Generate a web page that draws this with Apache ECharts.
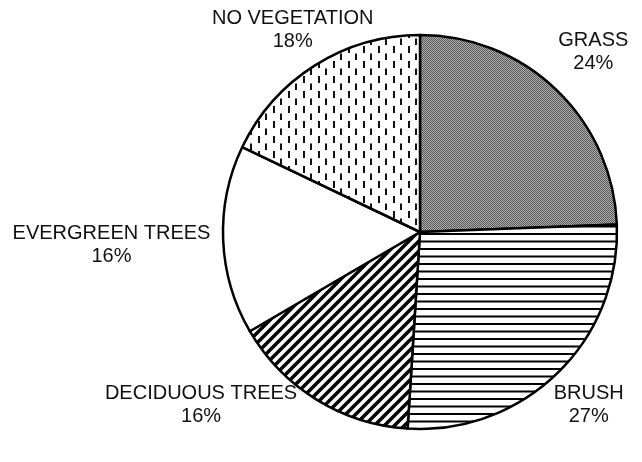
<!DOCTYPE html>
<html>
<head>
<meta charset="utf-8">
<script src="https://cdn.jsdelivr.net/npm/echarts@6/dist/echarts.min.js"></script>
<style>
  html, body { margin: 0; padding: 0; background: #fff; }
  #main { width: 642px; height: 462px; }
</style>
</head>
<body>
<div id="main"></div>
<script>
// land cover shares, clockwise from 12 o'clock
var categories = ['GRASS', 'BRUSH', 'DECIDUOUS TREES', 'EVERGREEN TREES', 'NO VEGETATION'];
var shares = [24.4, 26.6, 15.6, 15.5, 17.9];

var CX = 420, CY = 232, R = 197, GAP = 12;
var LABEL_TOP = 7, LABEL_BOTTOM = 428;

function makeTile(w, h, draw) {
    var c = document.createElement('canvas');
    c.width = w;
    c.height = h;
    var ctx = c.getContext('2d');
    ctx.fillStyle = '#fff';
    ctx.fillRect(0, 0, w, h);
    draw(ctx);
    return { image: c, repeat: 'repeat' };
}

// fine gray checker
var grassFill = makeTile(2, 2, function (ctx) {
    ctx.fillStyle = '#b0b0b0';
    ctx.fillRect(0, 0, 2, 2);
    ctx.fillStyle = '#575757';
    ctx.fillRect(0, 0, 1, 1);
    ctx.fillRect(1, 1, 1, 1);
});
// horizontal lines
var brushFill = makeTile(8, 15, function (ctx) {
    ctx.fillStyle = '#000';
    ctx.fillRect(0, 0.5, 8, 2);
    ctx.fillRect(0, 8, 8, 2);
});
// "/" stripes
var decidFill = makeTile(10, 10, function (ctx) {
    ctx.strokeStyle = '#000';
    ctx.lineWidth = 3.5;
    ctx.beginPath();
    ctx.moveTo(-5, 5); ctx.lineTo(5, -5);
    ctx.moveTo(0, 10); ctx.lineTo(10, 0);
    ctx.moveTo(5, 15); ctx.lineTo(15, 5);
    ctx.stroke();
});
// staggered vertical dashes
var noVegFill = makeTile(15, 15, function (ctx) {
    ctx.fillStyle = '#111';
    ctx.fillRect(3, 1, 2, 7);
    ctx.fillRect(10, 8.5, 2, 7);
});
var fills = [grassFill, brushFill, decidFill, '#ffffff', noVegFill];

var total = shares.reduce(function (a, b) { return a + b; }, 0);
var midAngles = [];
var acc = 0;
shares.forEach(function (v) {
    midAngles.push((acc + v / 2) / total * Math.PI * 2);
    acc += v;
});

// label just outside the rim on the slice's mid-angle; if it leaves the
// label band, slide it along the radial line, then push it sideways if
// its first (wide) line would cut into the pie
function placeLabel(i, w, h) {
    var a = midAngles[i];
    var ux = Math.sin(a), uy = -Math.cos(a);
    var sup = w / 2 * Math.abs(ux) + h / 2 * Math.abs(uy);
    var d = R + GAP + sup;
    var x = CX + d * ux, y = CY + d * uy;
    var clamped = false;
    if (y - h / 2 < LABEL_TOP) { y = LABEL_TOP + h / 2; clamped = true; }
    if (y + h / 2 > LABEL_BOTTOM) { y = LABEL_BOTTOM - h / 2; clamped = true; }
    if (clamped) {
        x = CX + (y - CY) / uy * ux;
        var top = y - h / 2 + 4, bot = y - 2;
        var near = (top <= CY && bot >= CY) ? 0 : Math.min(Math.abs(top - CY), Math.abs(bot - CY));
        var need = near < R ? Math.sqrt(R * R - near * near) : 0;
        var edge = ux < 0 ? x + w / 2 : x - w / 2;
        if (Math.abs(edge - CX) < need) {
            x = ux < 0 ? CX - need - w / 2 : CX + need + w / 2;
        }
    }
    return { x: x, y: y };
}

var chart = echarts.init(document.getElementById('main'));

chart.setOption({
    backgroundColor: '#fff',
    animation: false,
    series: [{
        type: 'pie',
        center: [CX, CY],
        radius: R,
        startAngle: 90,
        clockwise: true,
        avoidLabelOverlap: false,
        data: categories.map(function (name, i) {
            return { name: name, value: shares[i], itemStyle: { color: fills[i] } };
        }),
        itemStyle: {
            borderColor: '#000',
            borderWidth: 2.5
        },
        label: {
            show: true,
            formatter: function (p) {
                return p.name + '\n' + Math.round(p.value) + '%';
            },
            fontFamily: 'Liberation Sans, Arial, sans-serif',
            fontSize: 20,
            lineHeight: 23,
            color: '#111',
            align: 'center'
        },
        labelLine: { show: false },
        labelLayout: function (params) {
            var pos = placeLabel(params.dataIndex, params.labelRect.width, params.labelRect.height);
            return { x: pos.x, y: pos.y, align: 'center', verticalAlign: 'middle' };
        },
        emphasis: { disabled: true }
    }]
});

window.addEventListener('resize', function () {
    chart.resize();
});
</script>
</body>
</html>
